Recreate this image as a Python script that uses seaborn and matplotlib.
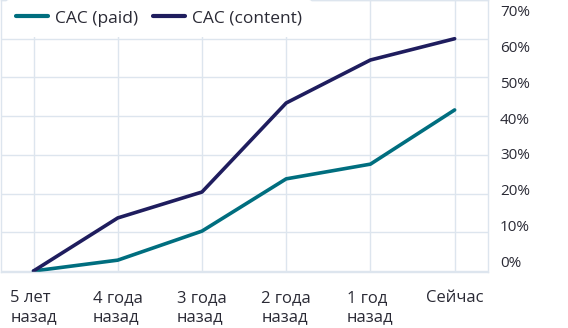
import matplotlib
matplotlib.use("Agg")
import matplotlib.pyplot as plt
import seaborn as sns
import pandas as pd

categories = ["5 лет\nназад", "4 года\nназад", "3 года\nназад", "2 года\nназад", "1 год\nназад", "Сейчас"]
cac_paid = [0.0, 2.8, 10.3, 23.8, 27.6, 41.6]
cac_content = [0.0, 13.7, 20.4, 43.4, 54.5, 60.0]
series_names = ["CAC (paid)", "CAC (content)"]
y_ticks = [0, 10, 20, 30, 40, 50, 60, 70]
y_tick_labels = [f"{v}%" for v in y_ticks]

colors = ["#006E7F", "#1F1D5E"]
grid_color = "#DDE5EE"
text_color = "#2A2A35"

sns.set_theme(style="white")
plt.rcParams["font.family"] = ["Open Sans", "DejaVu Sans"]

df = pd.DataFrame({
    "pos": list(range(len(categories))) * 2,
    "value": cac_paid + cac_content,
    "series": [series_names[0]] * len(categories) + [series_names[1]] * len(categories),
})

fig = plt.figure(figsize=(5.68, 3.28), dpi=100)
ax = fig.add_axes([0.001, 56 / 328, 487 / 568, 272 / 328])

sns.lineplot(data=df, x="pos", y="value", hue="series", palette=colors,
             linewidth=2.6, ax=ax, legend=True, solid_capstyle="round")

ax.set_xlim(-0.391, 5.391)
ax.set_ylim(-0.26, 70)
ax.set_xticks(range(len(categories)))
ax.set_xticklabels(categories, fontsize=12, color=text_color, linespacing=1.25)
for lbl in ax.get_xticklabels():
    lbl.set_multialignment("left")
ax.set_yticks(y_ticks)
ax.set_yticklabels([])
ax.tick_params(axis="x", length=0, pad=13)
ax.tick_params(axis="y", length=0)
ax.grid(True, color=grid_color, linewidth=1)
for sp in ax.spines.values():
    sp.set_color(grid_color)
    sp.set_linewidth(1)
ax.set_xlabel("")
ax.set_ylabel("")

# right-side percentage labels
ax2 = ax.twinx()
ax2.set_ylim(-2.78, 72.78)
ax2.set_yticks(y_ticks)
ax2.set_yticklabels(y_tick_labels, fontsize=11, color=text_color)
ax2.tick_params(axis="y", length=0, pad=9)
for sp in ax2.spines.values():
    sp.set_visible(False)
ax2.grid(False)

handles, labels = ax.get_legend_handles_labels()
leg = ax.legend(handles, labels, loc="upper left", bbox_to_anchor=(5 / 487, 1),
                ncol=2, frameon=True, facecolor="white", edgecolor="none",
                framealpha=1, fontsize=12.5, handlelength=1.85, handletextpad=0.4,
                columnspacing=0.85, borderaxespad=0.0, borderpad=0.6)
for t in leg.get_texts():
    t.set_color(text_color)
for h in leg.get_lines():
    h.set_linewidth(3)
leg.set_zorder(5)
ax.set_zorder(ax2.get_zorder() + 1)
ax.patch.set_visible(False)

fig.savefig("out.png", dpi=100)
